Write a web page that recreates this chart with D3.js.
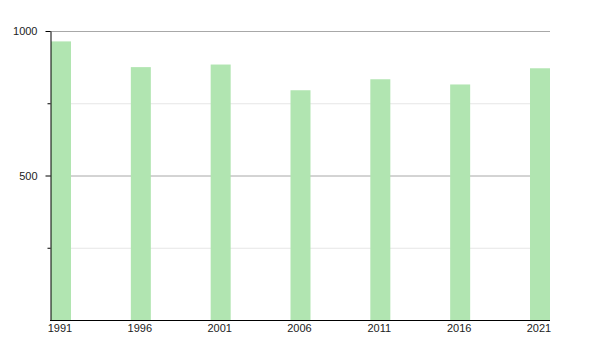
<!DOCTYPE html>
<html>
<head>
<meta charset="utf-8">
<script src="https://cdn.jsdelivr.net/npm/d3@7"></script>
<style>
  body { margin: 0; background: #fff; }
  text { font-family: "Liberation Sans", Arial, sans-serif; font-size: 11px; fill: #222; }
</style>
</head>
<body>
<svg id="chart" width="600" height="350"></svg>
<script>
// values
const years = [1991, 1996, 2001, 2006, 2011, 2016, 2021];
const population = [964, 875, 884, 795, 833, 815, 871];
const majorTicks = [500, 1000];
const minorTicks = [250, 750];

const width = 600, height = 350;
const margin = {top: 31, right: 50, bottom: 30, left: 50};

const svg = d3.select("#chart");

const x = d3.scaleLinear()
    .domain([1991, 2021])
    .range([51, 530]);

const y = d3.scaleLinear()
    .domain([0, 1000])
    .range([height - margin.bottom, margin.top]);

const barW = 20;

// grid
svg.append("g").selectAll("line")
  .data(minorTicks)
  .join("line")
    .attr("x1", margin.left).attr("x2", width - margin.right)
    .attr("y1", d => y(d) + 0.5).attr("y2", d => y(d) + 0.5)
    .attr("stroke", "#e6e6e6");

svg.append("g").selectAll("line")
  .data(majorTicks)
  .join("line")
    .attr("x1", margin.left).attr("x2", width - margin.right)
    .attr("y1", d => y(d) + 0.5).attr("y2", d => y(d) + 0.5)
    .attr("stroke", "#a8a8a8");

// bars
svg.append("g").selectAll("rect")
  .data(years)
  .join("rect")
    .attr("x", d => x(d))
    .attr("width", barW)
    .attr("y", (d, i) => y(population[i]))
    .attr("height", (d, i) => y(0) - y(population[i]))
    .attr("fill", "#b1e5b1");

// y axis
const yAxis = g => g
    .attr("transform", `translate(${margin.left + 0.5},0)`)
    .call(d3.axisLeft(y).tickValues(majorTicks).tickFormat(d3.format("d"))
      .tickSize(5).tickPadding(8).tickSizeOuter(0))
    .call(g => g.select(".domain").attr("stroke", "#000"))
    .call(g => g.selectAll("text").attr("font-size", 11).attr("fill", "#222").attr("font-family", null));

svg.append("g").call(yAxis);

svg.append("g")
    .attr("transform", `translate(${margin.left + 0.5},0)`)
  .selectAll("line")
  .data(minorTicks)
  .join("line")
    .attr("x1", -3).attr("x2", 0)
    .attr("y1", d => y(d) + 0.5).attr("y2", d => y(d) + 0.5)
    .attr("stroke", "#000");

// x axis
svg.append("line")
    .attr("x1", margin.left).attr("x2", width - margin.right)
    .attr("y1", y(0) + 0.5).attr("y2", y(0) + 0.5)
    .attr("stroke", "#000");

svg.append("g").selectAll("text")
  .data(years)
  .join("text")
    .attr("x", d => x(d) + barW / 2 - 1)
    .attr("y", y(0) + 12)
    .attr("text-anchor", "middle")
    .text(d => d);
</script>
</body>
</html>
